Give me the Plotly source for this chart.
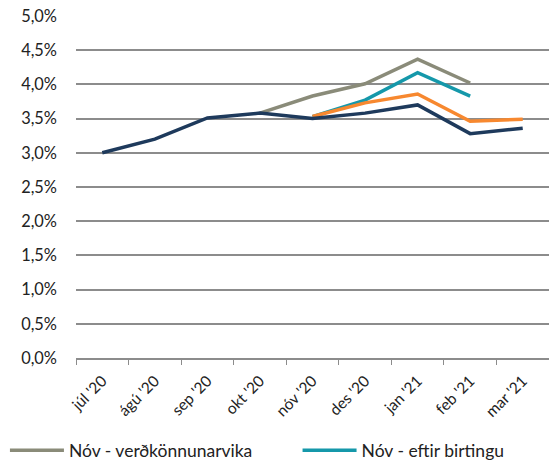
import plotly.graph_objects as go

# months on the x axis
months = ["júl '20", "ágú '20", "sep '20", "okt '20", "nóv '20",
          "des '20", "jan '21", "feb '21", "mar '21"]

# inflation, percent
raun = [3.0, 3.2, 3.51, 3.58, 3.5, 3.58, 3.7, 3.28, 3.36]
nov_verdkonnun = [None, None, None, 3.58, 3.83, 4.01, 4.37, 4.02, None]
nov_eftir = [None, None, None, None, 3.53, 3.77, 4.17, 3.83, None]
nov_spa = [None, None, None, None, 3.53, 3.73, 3.86, 3.46, 3.49]

fig = go.Figure()

fig.add_trace(go.Scatter(x=months, y=nov_verdkonnun, mode='lines',
                         name='Nóv - verðkönnunarvika', legend='legend',
                         line=dict(color='#8a8b79', width=3.5)))
fig.add_trace(go.Scatter(x=months, y=nov_eftir, mode='lines',
                         name='Nóv - eftir birtingu', legend='legend2',
                         line=dict(color='#1598aa', width=3.5)))
fig.add_trace(go.Scatter(x=months, y=nov_spa, mode='lines',
                         name='Spá', showlegend=False,
                         line=dict(color='#f7882f', width=3.5)))
fig.add_trace(go.Scatter(x=months, y=raun, mode='lines',
                         name='Verðbólga', showlegend=False,
                         line=dict(color='#1e3a5c', width=3.5)))

leg = dict(orientation='h', xref='container', yref='container',
           y=0.046, xanchor='left', yanchor='middle',
           font=dict(size=17.5), itemwidth=54)

fig.update_layout(
    width=549, height=472,
    margin=dict(l=76, r=0, t=16, b=114, autoexpand=False),
    plot_bgcolor='white', paper_bgcolor='white',
    separators=', ',
    font=dict(family='Lato, Open Sans, sans-serif', size=15, color='#222222'),
    legend=dict(leg, x=0.009),
    legend2=dict(leg, x=0.542),
)

fig.update_xaxes(
    type='category', tickangle=-45, showgrid=False, automargin=False,
    range=[-0.5, len(months) - 0.5],
    showline=True, linecolor='#8c8c8c', linewidth=1.5,
    ticks='outside', tickson='boundaries', ticklen=5, tickcolor='#8c8c8c',
    ticklabelstandoff=6,
    tickfont=dict(size=15.5),
)
fig.update_yaxes(
    range=[0, 5], dtick=0.5, tickformat='.1f', ticksuffix='%', automargin=False,
    showgrid=True, gridcolor='#8c8c8c', gridwidth=1.5,
    zeroline=False, showline=False, ticks='', ticklabeloverflow='allow',
    ticklabelstandoff=18,
    tickfont=dict(size=16.4),
)

# drop the default page margin so the figure sits at the window corner
fig.write_html("out.html", config={'displayModeBar': False},
               post_script="document.body.style.margin = '0';")
